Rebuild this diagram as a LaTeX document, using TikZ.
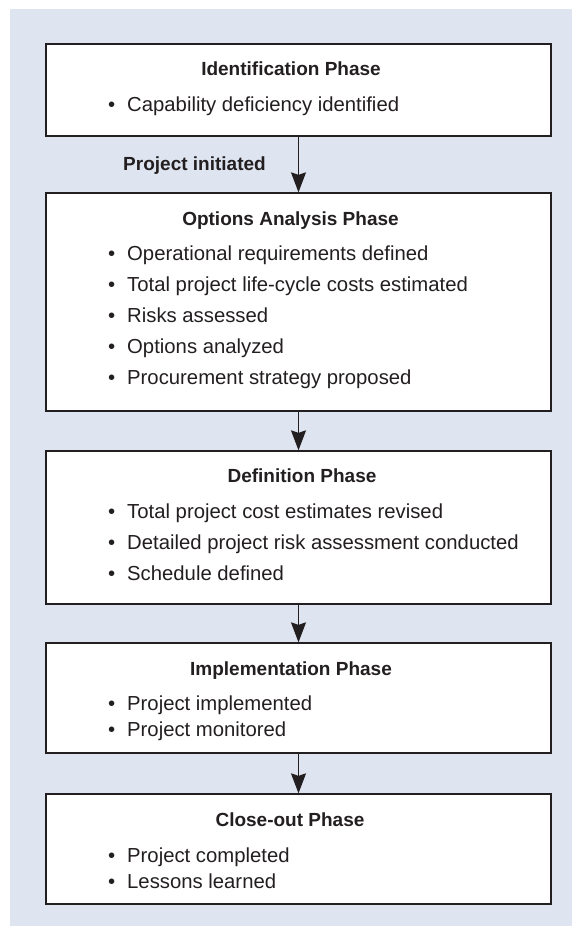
\documentclass[tikz,border=0pt]{standalone}
\usepackage{fontspec}
\setmainfont{Liberation Sans}
\usetikzlibrary{arrows.meta}
\definecolor{panelblue}{RGB}{223,229,240}
\definecolor{inkgrey}{RGB}{35,31,32}
\def\itemline#1{\llap{\textbullet\hspace{12pt}}#1}

\begin{document}
\begin{tikzpicture}[x=1pt,y=-1pt,
	phasebox/.style={draw=inkgrey,line width=1.3pt,fill=white,minimum width=505pt,inner sep=0pt},
	phasetitle/.style={anchor=base,inner sep=0pt,font=\bfseries\fontsize{19}{23}\selectfont,text=inkgrey},
	phaseitem/.style={anchor=base west,inner sep=0pt,font=\fontsize{20.3}{24}\selectfont,text=inkgrey},
	flowarrow/.style={draw=inkgrey,line width=1.4pt,-{Stealth[length=20pt,width=15pt,inset=2.5pt]}}]
				%%%%% START %%%%%
				\def\xmid{298.5}
				\def\xitem{127}
				\def\gapbig{31}
				\def\gapsm{26}

				\useasboundingbox (0,0) rectangle (572,926);
				\fill[panelblue] (10,9) rectangle (572,926);

				\node[phasebox,minimum height=92pt] (idbox) at (\xmid,90) {};
				\node[phasebox,minimum height=218pt] (optbox) at (\xmid,302) {};
				\node[phasebox,minimum height=153pt] (defbox) at (\xmid,527.5) {};
				\node[phasebox,minimum height=110pt] (impbox) at (\xmid,698) {};
				\node[phasebox,minimum height=110pt] (closebox) at (\xmid,849) {};

				\node[phasetitle] (idtitle) at (291,75) {Identification Phase};
				\node[phaseitem] (iditem1) at (\xitem,111) {\itemline{Capability deficiency identified}};

				\node[phasetitle] (opttitle) at (290.5,225) {Options Analysis Phase};
				\foreach \txt [count=\i] in {Operational requirements defined,Total project life-cycle costs estimated,Risks assessed,Options analyzed,Procurement strategy proposed}
					\node[phaseitem] (optitem\i) at (\xitem,{229+\gapbig*\i}) {\itemline{\txt}};

				\node[phasetitle] (deftitle) at (302,482) {Definition Phase};
				\foreach \txt [count=\i] in {Total project cost estimates revised,Detailed project risk assessment conducted,Schedule defined}
					\node[phaseitem] (defitem\i) at (\xitem,{487+\gapbig*\i}) {\itemline{\txt}};

				\node[phasetitle] (imptitle) at (291,675) {Implementation Phase};
				\foreach \txt [count=\i] in {Project implemented,Project monitored}
					\node[phaseitem] (impitem\i) at (\xitem,{684+\gapsm*\i}) {\itemline{\txt}};

				\node[phasetitle] (closetitle) at (290,826) {Close-out Phase};
				\foreach \txt [count=\i] in {Project completed,Lessons learned}
					\node[phaseitem] (closeitem\i) at (\xitem,{836+\gapsm*\i}) {\itemline{\txt}};

				\node[phasetitle] (initlabel) at (194.5,170) {Project initiated};

				\draw[flowarrow] (idbox.south) -- (optbox.north);
				\draw[flowarrow] (optbox.south) -- (defbox.north);
				\draw[flowarrow] (defbox.south) -- (impbox.north);
				\draw[flowarrow] (impbox.south) -- (closebox.north);
				%%%%% END %%%%%
\end{tikzpicture}
\end{document}
